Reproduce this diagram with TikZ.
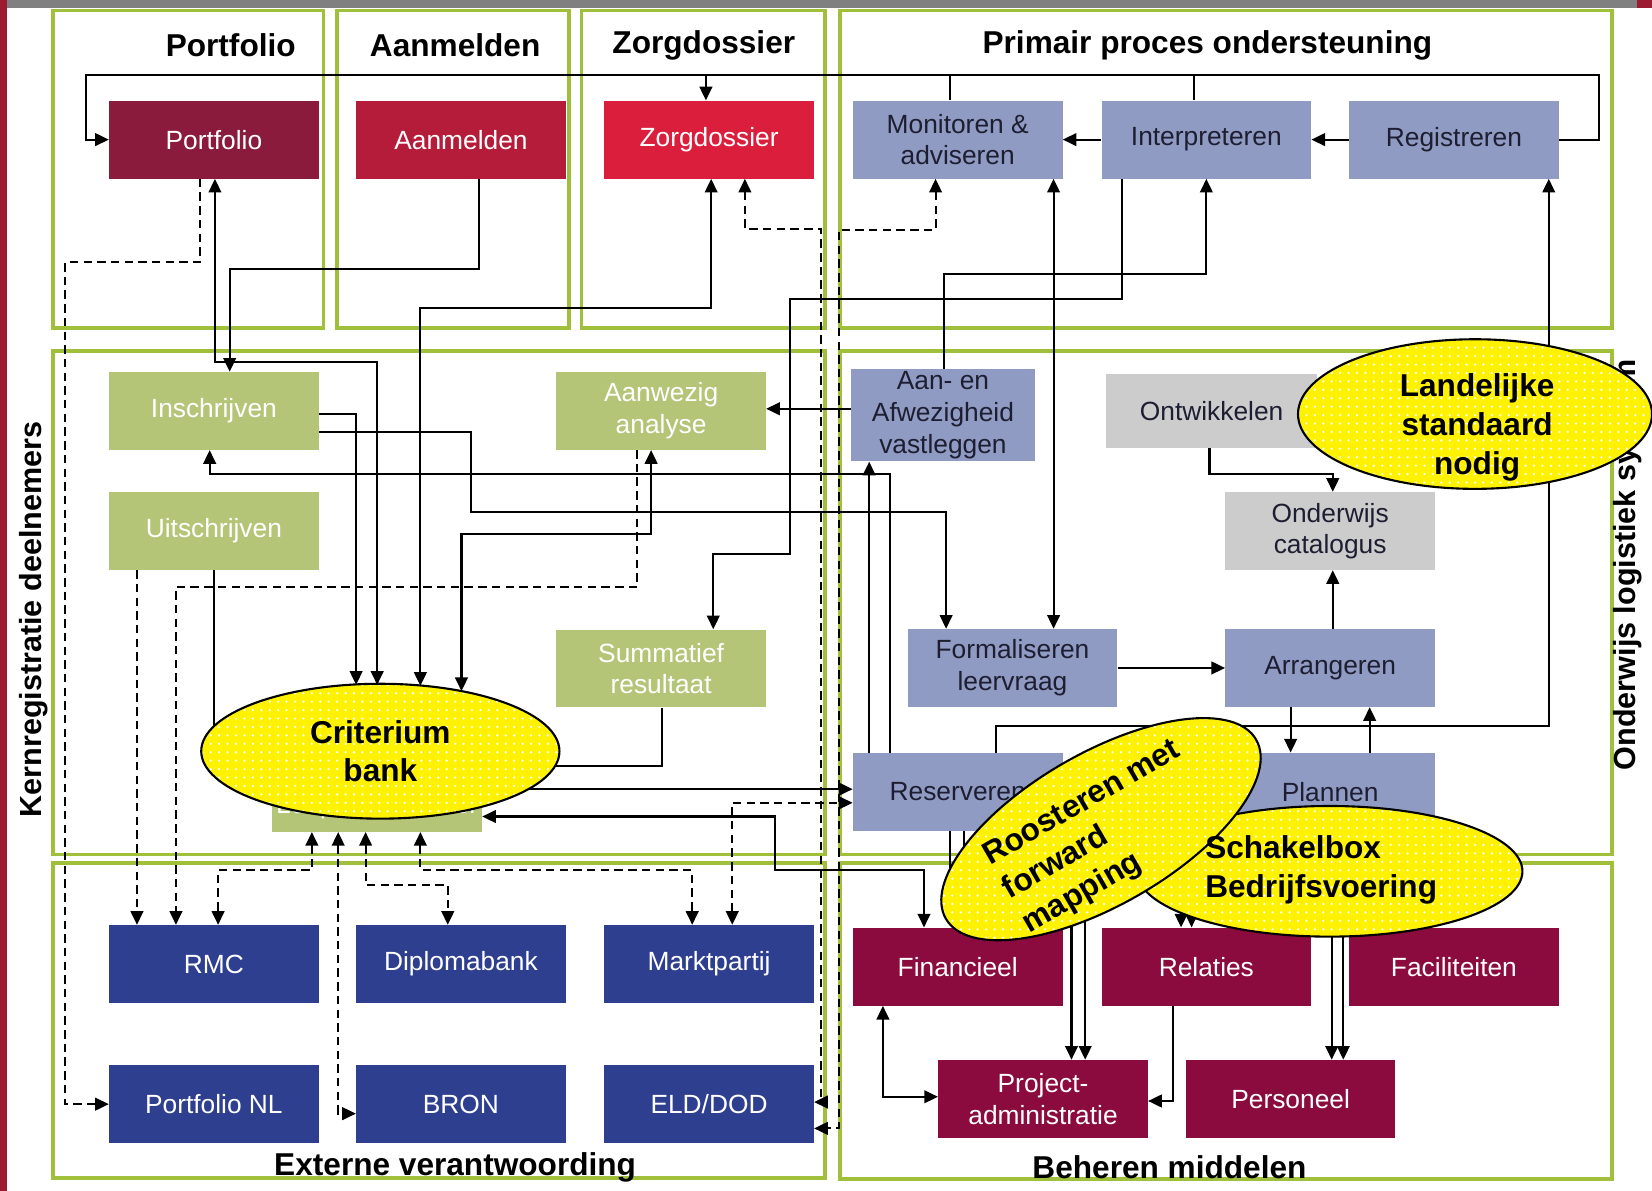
\documentclass[tikz,border=0pt]{standalone}
\usepackage{fontspec}
\setmainfont{Liberation Sans}
\usetikzlibrary{arrows.meta,shapes.geometric,patterns.meta}
\definecolor{framegreen}{RGB}{160,192,60}
\definecolor{topgray}{RGB}{128,128,128}
\definecolor{redbar}{RGB}{155,27,48}
\definecolor{cpf}{RGB}{139,27,61}
\definecolor{cam}{RGB}{181,28,58}
\definecolor{czd}{RGB}{218,30,60}
\definecolor{clav}{RGB}{143,155,194}
\definecolor{colive}{RGB}{181,197,120}
\definecolor{cgray}{RGB}{204,204,204}
\definecolor{cnavy}{RGB}{46,63,143}
\definecolor{cburg}{RGB}{139,11,62}
\definecolor{ctxt}{RGB}{30,30,50}
\begin{document}
\begin{tikzpicture}[x=1pt,y=-1pt,
  ln/.style={line width=2pt, draw=black},
  dsh/.style={dash pattern=on 8pt off 5pt},
  ar/.style={-{Triangle[length=13pt,width=12pt]}},
  dar/.style={{Triangle[length=13pt,width=12pt]}-{Triangle[length=13pt,width=12pt]}},
  bx/.style={minimum width=199pt, minimum height=74pt, inner sep=0pt, align=center, font=\fontsize{25}{30}\selectfont},
  frame/.style={draw=framegreen, line width=3.5pt},
  ttl/.style={font=\fontsize{30}{34}\selectfont\bfseries},
  yel/.style={draw=black, line width=2pt, ellipse, inner sep=0pt, preaction={fill=yellow}, pattern={Dots[distance=8pt,radius=1.2pt]}, pattern color=white},
  etxt/.style={font=\fontsize{30}{37}\selectfont\bfseries, inner sep=0pt}
]
\path[use as bounding box] (0,0) rectangle (1568,1130);
\fill[white] (0,0) rectangle (1568,1130);
\fill[topgray] (0,0) rectangle (1568,8);
\fill[redbar] (0,0) rectangle (7,1130);
\fill[redbar] (1554,0) rectangle (1568,8);

% frames
\draw[frame] (50,10) rectangle (307,311);
\draw[frame] (320,10) rectangle (540,311);
\draw[frame] (552,10) rectangle (783,311);
\draw[frame] (797,10) rectangle (1530,311);
\draw[frame] (50,333) rectangle (783,811);
\draw[frame] (797,333) rectangle (1530,811);
\draw[frame] (50,819) rectangle (783,1118);
\draw[frame] (797,819) rectangle (1530,1119);

% titles
\node[ttl] (tPort) at (219,43) {Portfolio};
\node[ttl] (tAanm) at (432,43) {Aanmelden};
\node[ttl] (tZorg) at (668,43) {Zorgdossier};
\node[ttl] (tPrim) at (1146,43) {Primair proces ondersteuning};
\node[ttl] (tExt) at (432,1108) {Externe verantwoording};
\node[ttl] (tBeh) at (1110,1108) {Beheren middelen};
\node[ttl, font=\fontsize{29}{34}\selectfont\bfseries, rotate=90] (tKern) at (32,588) {Kernregistratie deelnemers};
\node[ttl, font=\fontsize{29}{34}\selectfont\bfseries, rotate=90] (tOnd) at (1545,536) {Onderwijs logistiek systeem};

% boxes
\node[bx, fill=cpf, text=white] (portfolio) at (203,132.5) {Portfolio};
\node[bx, fill=cam, text=white] (aanmelden) at (437.5,132.5) {Aanmelden};
\node[bx, fill=czd, text=white] (zorg) at (673,132.5) {Zorgdossier};
\node[bx, fill=clav, text=ctxt] (monitor) at (909,132.5) {Monitoren \&\\adviseren};
\node[bx, fill=clav, text=ctxt] (interp) at (1145,132.5) {Interpreteren};
\node[bx, fill=clav, text=ctxt] (regis) at (1380,132.5) {Registreren};

\node[bx, fill=colive, text=white] (inschr) at (203,390) {Inschrijven};
\node[bx, fill=colive, text=white] (aanwezig) at (627.5,390) {Aanwezig\\analyse};
\node[bx, fill=colive, text=white] (uitschr) at (203,504) {Uitschrijven};
\node[bx, fill=colive, text=white] (summ) at (627.5,634.5) {Summatief\\resultaat};
\node[bx, fill=colive] (loop) at (358,752.5) {};
\node[font=\fontsize{25}{30}\selectfont, text=white, inner sep=0pt] (looptxt) at (358,766) {Loopbaandossier};

\node[bx, fill=clav, text=ctxt, minimum width=174pt, minimum height=88pt] (aanaf) at (895,394) {Aan- en\\Afwezigheid\\vastleggen};
\node[bx, fill=cgray, text=ctxt, minimum width=200pt, minimum height=70pt] (ontw) at (1150,390) {Ontwikkelen};
\node[bx, fill=cgray, text=ctxt] (cat) at (1262.5,504) {Onderwijs\\catalogus};
\node[bx, fill=clav, text=ctxt] (form) at (961,634) {Formaliseren\\leervraag};
\node[bx, fill=clav, text=ctxt] (arr) at (1262.5,634) {Arrangeren};
\node[bx, fill=clav, text=ctxt] (reserv) at (909,751.5) {Reserveren};
\node[bx, fill=clav, text=ctxt] (plan) at (1262.5,751.5) {Plannen};

\node[bx, fill=cnavy, text=white] (rmc) at (203,915) {RMC};
\node[bx, fill=cnavy, text=white] (diplo) at (437.5,915) {Diplomabank};
\node[bx, fill=cnavy, text=white] (markt) at (673,915) {Marktpartij};
\node[bx, fill=cnavy, text=white] (pnl) at (203,1048) {Portfolio NL};
\node[bx, fill=cnavy, text=white] (bron) at (437.5,1048) {BRON};
\node[bx, fill=cnavy, text=white] (eld) at (673,1048) {ELD/DOD};

\node[bx, fill=cburg, text=white] (fin) at (909,917.5) {Financieel};
\node[bx, fill=cburg, text=white] (rel) at (1145,917.5) {Relaties};
\node[bx, fill=cburg, text=white] (fac) at (1380,917.5) {Faciliteiten};
\node[bx, fill=cburg, text=white] (proj) at (990,1043) {Project-\\administratie};
\node[bx, fill=cburg, text=white] (pers) at (1225,1043) {Personeel};

% connectors - top
\draw[ln,ar] (regis.east) -- (1518,0 |- regis.east) -- (1518,71) -- (82,71) -- (82,0 |- portfolio.west) -- (portfolio.west);
\draw[ln,ar] (670,71) -- (670,0 |- zorg.north);
\draw[ln] (monitor.north -| 902,0) -- (902,71);
\draw[ln] (interp.north -| 1133,0) -- (1133,71);
\draw[ln,ar] (regis.west) -- (interp.east);
\draw[ln,ar] (interp.west) -- (monitor.east);

% portfolio / aanmelden / zorg
\draw[ln,dsh,ar] (portfolio.south -| 190,0) -- (190,249) -- (62,249) -- (62,0 |- pnl.west) -- (pnl.west);
\draw[ln,ar] (aanmelden.south -| 455,0) -- (455,255) -- (218,255) -- (218,0 |- inschr.north);
\draw[ln,dar] (portfolio.south -| 204,0) -- (204,344) -- (358,344) -- (358,650);
\draw[ln,dar] (zorg.south -| 675,0) -- (675,292) -- (399,292) -- (399,651);
\draw[ln,ar] (inschr.east |- 0,393) -- (338,393) -- (338,650);
\draw[ln,dar] (aanwezig.south -| 618,0) -- (618,507) -- (438,507) -- (438,656);
\draw[ln,ar] (inschr.east |- 0,410) -- (447,410) -- (447,486) -- (898,486) -- (898,0 |- form.north);
\draw[ln,ar] (reserv.north -| 845,0) -- (845,450) -- (199,450) -- (199,0 |- inschr.south);
\draw[ln,ar] (reserv.north -| 825,0) -- (825,0 |- aanaf.south);
\draw[ln,ar] (aanaf.west |- 0,388) -- (aanwezig.east |- 0,388);
\draw[ln,ar] (interp.south -| 1065,0) -- (1065,284) -- (750,284) -- (750,526) -- (677,526) -- (677,0 |- summ.north);
\draw[ln,ar] (aanaf.north -| 896,0) -- (896,260) -- (1145,260) -- (1145,0 |- interp.south);
\draw[ln,dar] (monitor.south -| 1000,0) -- (1000,0 |- form.north);

% central dashed lines
\draw[ln,dsh,dar] (monitor.south -| 888,0) -- (888,218) -- (796,218) -- (796,1071) -- (eld.east |- 0,1071);
\draw[ln,dsh,dar] (zorg.south -| 707,0) -- (707,217) -- (779,217) -- (779,1046) -- (eld.east |- 0,1046);

% kernregistratie -> externe
\draw[ln,dsh,ar] (uitschr.south -| 130,0) -- (130,0 |- rmc.north);
\draw[ln,dsh,ar] (aanwezig.south -| 605,0) -- (605,557) -- (167,557) -- (167,0 |- rmc.north);
\draw[ln,dsh,dar] (loop.south -| 296,0) -- (296,826) -- (207,826) -- (207,0 |- rmc.north);
\draw[ln,dsh,dar] (loop.south -| 321,0) -- (321,1057) -- (bron.west |- 0,1057);
\draw[ln,dsh,dar] (loop.south -| 347,0) -- (347,840) -- (425,840) -- (425,0 |- diplo.north);
\draw[ln,dsh,dar] (loop.south -| 399,0) -- (399,826) -- (657,826) -- (657,0 |- markt.north);
\draw[ln,dsh,dar] (markt.north -| 695,0) -- (695,762) -- (reserv.west |- 0,762);
\draw[ln,ar] (361,749) -- (reserv.west |- 0,749);
\draw[ln] (summ.south -| 628,0) -- (628,727) -- (361,727);
\draw[ln,ar] (uitschr.south -| 203,0) -- (203,720) -- (loop.west |- 0,720);
\draw[ln,dar] (fin.north -| 877,0) -- (877,826) -- (736,826) -- (736,775) -- (loop.east |- 0,775);

% onderwijs logistiek
\draw[ln,ar] (ontw.south -| 1148,0) -- (1148,450) -- (1265,450) -- (1265,0 |- cat.north);
\draw[ln,ar] (arr.north -| 1265,0) -- (1265,0 |- cat.south);
\draw[ln,ar] (form.east) -- (arr.west);
\draw[ln,ar] (arr.south -| 1225,0) -- (1225,0 |- plan.north);
\draw[ln,ar] (plan.north -| 1300,0) -- (1300,0 |- arr.south);
\draw[ln,ar] (reserv.north -| 945,0) -- (945,689) -- (1470,689) -- (1470,0 |- regis.south);

% beheren middelen
\draw[ln,dar] (fin.south -| 838,0) -- (838,1041) -- (proj.west |- 0,1041);
\draw[ln,ar] (rel.south -| 1113,0) -- (1113,1045) -- (proj.east |- 0,1045);
\draw[ln,ar] (reserv.south -| 902,0) -- (902,845) -- (1017,845) -- (1017,0 |- proj.north);
\draw[ln,ar] (reserv.south -| 915,0) -- (915,835) -- (1030,835) -- (1030,0 |- proj.north);
\draw[ln,ar] (reserv.south -| 915,0) -- (915,835) -- (1121,835) -- (1121,0 |- rel.north);
\draw[ln,ar] (plan.south -| 1180,0) -- (1180,848) -- (1131,848) -- (1131,0 |- rel.north);
\draw[ln,ar] (plan.south -| 1264,0) -- (1264,0 |- pers.north);
\draw[ln,ar] (plan.south -| 1275,0) -- (1275,0 |- pers.north);

% yellow ellipses
\node[yel, minimum width=340pt, minimum height=128pt] (crit) at (361,713) {};
\node[yel, minimum width=336pt, minimum height=142pt] (land) at (1400,393) {};
\node[yel, minimum width=366pt, minimum height=124pt] (schak) at (1262,827) {};
\node[yel, minimum width=340pt, minimum height=144pt, rotate=30] (roost) at (1045,787) {};

\node[etxt, align=center] (critT) at (361,713) {Criterium\\bank};
\node[etxt, align=center] (landT) at (1402,406) {Landelijke\\standaard\\nodig};
\node[etxt, align=left] (schakT) at (1254,826) {Schakelbox\\Bedrijfsvoering};
\node[etxt, align=left, rotate=30] (roostT) at (1046,795) {Roosteren met\\forward\\mapping};
\end{tikzpicture}
\end{document}
